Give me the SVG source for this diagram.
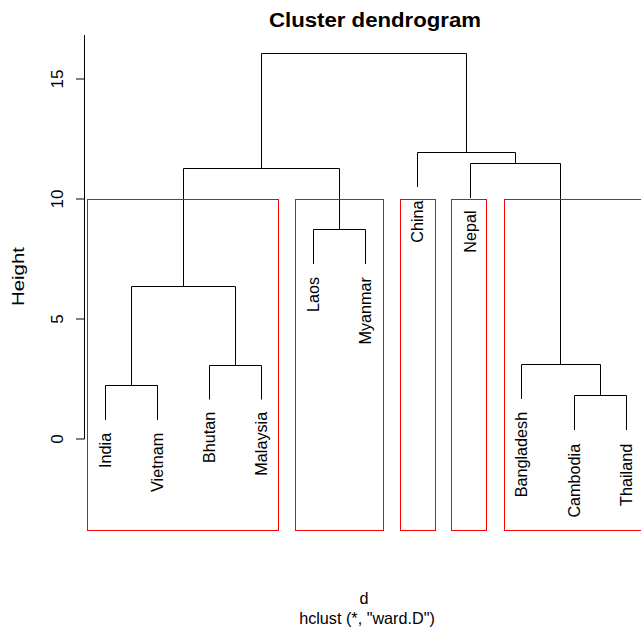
<svg xmlns="http://www.w3.org/2000/svg" width="641" height="634" viewBox="0 0 641 634">
<style>
  text { font-family: "Liberation Sans", Arial, sans-serif; fill: #000; }
  .lbl { font-size: 16.2px; text-anchor: end; }
  .tick { font-size: 17px; text-anchor: middle; }
  .br { fill: none; stroke: #000; stroke-width: 1; }
  .clu { fill: none; stroke: #ff0000; stroke-width: 1; }
</style>
<rect x="0" y="0" width="641" height="634" fill="#ffffff"/>
<text x="375" y="26.7" font-size="20" font-weight="bold" text-anchor="middle" textLength="212" lengthAdjust="spacingAndGlyphs">Cluster dendrogram</text>
<g id="axis">
  <line class="br" x1="84.5" y1="35" x2="84.5" y2="439"/>
  <line class="br" x1="76" y1="79" x2="84.5" y2="79"/>
  <line class="br" x1="76" y1="199" x2="84.5" y2="199"/>
  <line class="br" x1="76" y1="319" x2="84.5" y2="319"/>
  <line class="br" x1="76" y1="439" x2="84.5" y2="439"/>
  <text class="tick" transform="translate(62.5,79) rotate(-90)">15</text>
  <text class="tick" transform="translate(62.5,199) rotate(-90)">10</text>
  <text class="tick" transform="translate(62.5,319) rotate(-90)">5</text>
  <text class="tick" transform="translate(62.5,439) rotate(-90)">0</text>
  <text transform="translate(23.5,276.5) rotate(-90)" font-size="16.5" text-anchor="middle" textLength="59" lengthAdjust="spacingAndGlyphs">Height</text>
</g>
<g id="connectors">
  <path class="br" d="M105.5,420 V385.5 H157.5 V420"/>
  <path class="br" d="M209.5,399.5 V365.5 H261.5 V399.5"/>
  <path class="br" d="M131.5,385.5 V286.5 H235.5 V365.5"/>
  <path class="br" d="M313.5,264 V229.5 H365.5 V264"/>
  <path class="br" d="M183.5,286.5 V168.5 H339.5 V229.5"/>
  <path class="br" d="M574.5,430 V395.5 H626.5 V430"/>
  <path class="br" d="M521.5,399 V364.5 H600.5 V395.5"/>
  <path class="br" d="M470.5,198 V163.5 H560.5 V364.5"/>
  <path class="br" d="M417.5,187 V152.5 H515.5 V163.5"/>
  <path class="br" d="M261.5,168.5 V53.5 H466.5 V152.5"/>
</g>
<g id="leaf-india"><text class="lbl" transform="translate(111,432.8) rotate(-90)">India</text></g>
<g id="leaf-vietnam"><text class="lbl" transform="translate(163,432.8) rotate(-90)">Vietnam</text></g>
<g id="leaf-bhutan"><text class="lbl" transform="translate(215,411.8) rotate(-90)">Bhutan</text></g>
<g id="leaf-malaysia"><text class="lbl" transform="translate(267,411.8) rotate(-90)">Malaysia</text></g>
<g id="leaf-laos"><text class="lbl" transform="translate(319,277) rotate(-90)">Laos</text></g>
<g id="leaf-myanmar"><text class="lbl" transform="translate(371,277) rotate(-90)">Myanmar</text></g>
<g id="leaf-china"><text class="lbl" transform="translate(423,200.5) rotate(-90)">China</text></g>
<g id="leaf-nepal"><text class="lbl" transform="translate(476,210.5) rotate(-90)">Nepal</text></g>
<g id="leaf-bangladesh"><text class="lbl" transform="translate(527,411.8) rotate(-90)">Bangladesh</text></g>
<g id="leaf-cambodia"><text class="lbl" transform="translate(580,443.8) rotate(-90)">Cambodia</text></g>
<g id="leaf-thailand"><text class="lbl" transform="translate(632,443.8) rotate(-90)">Thailand</text></g>
<g id="clusters">
  <rect class="clu" x="87.5" y="199.5" width="191" height="331"/>
  <rect class="clu" x="295.5" y="199.5" width="88" height="331"/>
  <rect class="clu" x="400.5" y="199.5" width="35" height="331"/>
  <rect class="clu" x="451.5" y="199.5" width="35" height="331"/>
  <rect class="clu" x="504.5" y="199.5" width="140" height="331"/>
</g>
<text x="364" y="604" font-size="16.2" text-anchor="middle">d</text>
<text x="367" y="623.5" font-size="16.2" text-anchor="middle">hclust (*, "ward.D")</text>
</svg>
